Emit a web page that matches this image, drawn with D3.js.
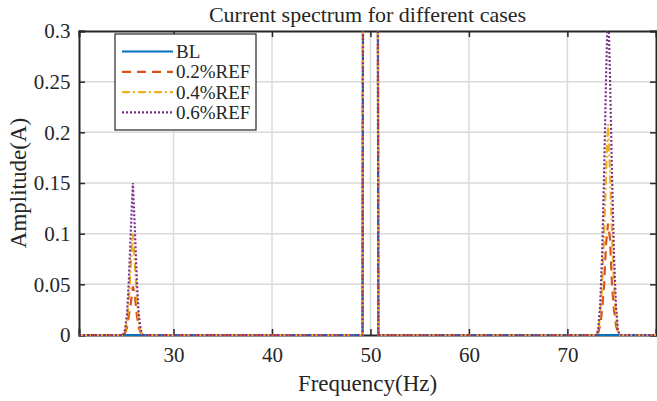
<!DOCTYPE html>
<html>
<head>
<meta charset="utf-8">
<script src="https://cdn.jsdelivr.net/npm/d3@7"></script>
<style>
  body { margin: 0; background: #fff; }
  text { font-family: "Liberation Serif", "Times New Roman", serif; fill: #262626; }
  .grid line { stroke: #dadada; stroke-width: 1.5; }
  .axis path, .axis line { stroke: #262626; }
</style>
</head>
<body>
<svg id="chart"></svg>
<script>
// spectrum data (zero everywhere else)
const seriesNames = ["BL", "0.2%REF", "0.4%REF", "0.6%REF"];
const xTicks = [30, 40, 50, 60, 70];
const yTicks = [0, 0.05, 0.1, 0.15, 0.2, 0.25, 0.3];

// sideband around 25.9 Hz
const freqLow = [24.87, 25.07, 25.27, 25.47, 25.67, 25.87, 26.07, 26.27, 26.47, 26.67, 26.87];
const blLow   = [0, 0, 0, 0, 0, 0, 0, 0, 0, 0, 0];
const ref02Low = [0, 0.002, 0.007, 0.02, 0.032, 0.048, 0.04, 0.02, 0.007, 0.002, 0];
const ref04Low = [0, 0.003, 0.013, 0.037, 0.07, 0.1, 0.07, 0.037, 0.013, 0.003, 0];
const ref06Low = [0, 0.005, 0.02, 0.055, 0.105, 0.15, 0.105, 0.055, 0.02, 0.005, 0];

// fundamental at 50 Hz (goes far off scale)
const freqMain = [49.2, 49.4, 49.6, 49.8, 50.0, 50.2, 50.4, 50.6, 50.8];
const blMain    = [0, 1.5, 3, 6, 10, 6, 3, 1.5, 0];
const ref02Main = [0, 1.5, 3, 6, 10, 6, 3, 1.5, 0];
const ref04Main = [0, 1.5, 3, 6, 10, 6, 3, 1.5, 0];
const ref06Main = [0, 1.5, 3, 6, 10, 6, 3, 1.5, 0];

// sideband around 74.1 Hz
const freqHigh = [72.93, 73.13, 73.33, 73.53, 73.73, 73.93, 74.13, 74.33, 74.53, 74.73, 74.93, 75.13, 75.33];
const blHigh    = [0, 0, 0, 0, 0, 0, 0, 0, 0, 0, 0, 0, 0];
const ref02High = [0, 0.002, 0.01, 0.025, 0.05, 0.09, 0.11, 0.095, 0.05, 0.025, 0.01, 0.002, 0];
const ref04High = [0, 0.003, 0.02, 0.05, 0.1, 0.16, 0.208, 0.16, 0.1, 0.05, 0.02, 0.003, 0];
const ref06High = [0, 0.005, 0.03, 0.08, 0.16, 0.255, 0.33, 0.255, 0.16, 0.08, 0.03, 0.005, 0];

const freqStart = 20.4, freqEnd = 79;
const serif = '"Liberation Serif", "Times New Roman", serif';

class spectrumChart {
    constructor(_config, _data) {
        this.config = {
            parentElement: _config.parentElement,
            containerWidth: _config.containerWidth || 657,
            containerHeight: _config.containerHeight || 401,
            margin: {top: 31, right: 1, bottom: 66, left: 79}
        }
        this.data = _data;
        this.initVis();
    }

    initVis() {
        let vis = this;

        vis.width = vis.config.containerWidth - vis.config.margin.left - vis.config.margin.right;
        vis.height = vis.config.containerHeight - vis.config.margin.top - vis.config.margin.bottom;

        vis.xScale = d3.scaleLinear()
            .domain([freqStart, freqEnd])
            .range([0, vis.width]);

        vis.yScale = d3.scaleLinear()
            .domain([0, 0.3])
            .range([vis.height, 0]);

        vis.svg = d3.select(vis.config.parentElement)
            .attr('width', vis.config.containerWidth)
            .attr('height', vis.config.containerHeight);

        vis.chart = vis.svg.append("g")
            .attr("transform", `translate(${vis.config.margin.left},${vis.config.margin.top})`);

        vis.svg.append("defs").append("clipPath")
            .attr("id", "plot-clip")
            .append("rect")
            .attr("x", -2).attr("y", 0)
            .attr("width", vis.width + 4).attr("height", vis.height + 2);
    }

    renderVis() {
        let vis = this;

        // grid
        const grid = vis.chart.append("g").attr("class", "grid");
        grid.selectAll(".gx").data(xTicks).join("line")
            .attr("x1", d => vis.xScale(d)).attr("x2", d => vis.xScale(d))
            .attr("y1", 0).attr("y2", vis.height);
        grid.selectAll(".gy").data(yTicks.slice(1, -1)).join("line")
            .attr("class", "gy")
            .attr("x1", 0).attr("x2", vis.width)
            .attr("y1", d => vis.yScale(d)).attr("y2", d => vis.yScale(d));

        // axes, ticks pointing inward (matlab box)
        const xAxis = d3.axisBottom(vis.xScale).tickValues(xTicks).tickSize(-6).tickPadding(12).tickFormat(d3.format("d"));
        const xTop = d3.axisTop(vis.xScale).tickValues(xTicks).tickSize(-6).tickFormat("");
        const yAxis = d3.axisLeft(vis.yScale).tickValues(yTicks).tickSize(-6).tickPadding(8.5).tickFormat(d => d);
        const yRight = d3.axisRight(vis.yScale).tickValues(yTicks).tickSize(-6).tickFormat("");

        const xG = vis.chart.append("g").attr("class", "axis").attr("transform", `translate(0,${vis.height})`).call(xAxis);
        vis.chart.append("g").attr("class", "axis").call(xTop);
        vis.chart.append("g").attr("class", "axis").call(yAxis);
        vis.chart.append("g").attr("class", "axis").attr("transform", `translate(${vis.width},0)`).call(yRight);

        vis.chart.selectAll(".axis path").attr("stroke-width", 2);
        vis.chart.selectAll(".axis line").attr("stroke-width", 1.5);
        vis.chart.selectAll(".axis text")
            .style("font-family", serif)
            .style("font-size", "21px")
            .style("fill", "#262626");
        xG.selectAll("text").attr("dy", "0.71em");

        // lines
        const line = d3.line()
            .x(d => vis.xScale(d[0]))
            .y(d => vis.yScale(d[1]));

        vis.chart.append("g")
            .attr("clip-path", "url(#plot-clip)")
            .selectAll("path")
            .data(vis.data)
            .join("path")
            .attr("d", d => line(d.values))
            .attr("fill", "none")
            .attr("stroke", d => d.color)
            .attr("stroke-width", 2.2)
            .attr("stroke-dasharray", d => d.dash);

        // legend
        const legend = vis.chart.append("g").attr("transform", "translate(36,3)");
        legend.append("rect")
            .attr("width", 141).attr("height", 96)
            .attr("fill", "#fff").attr("stroke", "#262626").attr("stroke-width", 1.2);
        const rows = legend.selectAll(".row").data(vis.data).join("g")
            .attr("transform", (d, i) => `translate(0,${17.5 + i * 20.3})`);
        rows.append("line")
            .attr("x1", 7).attr("x2", 58)
            .attr("stroke", d => d.color).attr("stroke-width", 2.2)
            .attr("stroke-dasharray", d => d.dash);
        rows.append("text")
            .attr("x", 61).attr("dy", "0.35em")
            .style("font-size", "19px")
            .text(d => d.name);

        // labels
        vis.svg.append("text")
            .attr("x", vis.config.margin.left + vis.width / 2).attr("y", 22)
            .attr("text-anchor", "middle").style("font-size", "22px")
            .text("Current spectrum for different cases");
        vis.svg.append("text")
            .attr("x", vis.config.margin.left + vis.width / 2).attr("y", 391)
            .attr("text-anchor", "middle").style("font-size", "23px")
            .text("Frequency(Hz)");
        vis.svg.append("text")
            .attr("transform", `translate(26,${vis.config.margin.top + vis.height / 2}) rotate(-90)`)
            .attr("text-anchor", "middle").style("font-size", "23px")
            .text("Amplitude(A)");
    }
}

function buildSeries(low, main, high) {
    const pts = [[freqStart, 0]];
    freqLow.forEach((f, i) => pts.push([f, low[i]]));
    freqMain.forEach((f, i) => pts.push([f, main[i]]));
    freqHigh.forEach((f, i) => pts.push([f, high[i]]));
    pts.push([freqEnd, 0]);
    return pts;
}

const colors = ["#0072BD", "#D95319", "#EDB120", "#7E2F8E"];
const dashes = [null, "9,6", "8,3,2,3", "2,2"];
const seriesData = [
    buildSeries(blLow, blMain, blHigh),
    buildSeries(ref02Low, ref02Main, ref02High),
    buildSeries(ref04Low, ref04Main, ref04High),
    buildSeries(ref06Low, ref06Main, ref06High)
].map((values, i) => ({name: seriesNames[i], values: values, color: colors[i], dash: dashes[i]}));

const chart = new spectrumChart({parentElement: "#chart"}, seriesData);
chart.renderVis();
</script>
</body>
</html>
